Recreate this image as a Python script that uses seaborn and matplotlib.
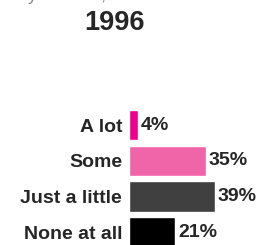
import matplotlib
matplotlib.use("Agg")
import matplotlib.pyplot as plt
import seaborn as sns
import pandas as pd

# --- DATOS ---
categorias = ["A lot", "Some", "Just a little", "None at all"]
valores = [4, 35, 39, 21]
colores = ["#EC008C", "#F064A8", "#404040", "#000000"]
titulo = "1996"

sns.set_style("white")
plt.rcParams["font.family"] = ["Liberation Sans", "DejaVu Sans"]

df = pd.DataFrame({"cat": categorias, "val": valores})

fig = plt.figure(figsize=(2.64, 2.45), dpi=100)
ax = fig.add_axes([129 / 264, -5 / 245, 132 / 264, 142.5 / 245])

sns.barplot(data=df, y="cat", x="val", hue="cat", palette=colores,
            order=categorias, hue_order=categorias, legend=False,
            width=0.85, saturation=1, ax=ax)

ax.set_xlim(0, 60)
ax.set_ylim(3.5, -0.5)
ax.set_xlabel("")
ax.set_ylabel("")
ax.set_xticks([])
ax.tick_params(axis="y", length=0, pad=5, labelsize=14)
for lbl in ax.get_yticklabels():
    lbl.set_fontweight("bold")
sns.despine(ax=ax, left=True, bottom=True, top=True, right=True)

# etiquetas de valor
for p, v in zip(ax.patches, valores):
    ax.text(p.get_width() + 1.3, p.get_y() + p.get_height() / 2, f"{v}%",
            va="center", ha="left", fontsize=14, fontweight="bold")

# titulo y texto cortado arriba
fig.text(114 / 264, 1 - 23 / 245, titulo, ha="center", va="center",
         fontsize=19.5, fontweight="bold")
fig.text(28 / 264, 1.0, "y interest, 1996", ha="left", va="baseline",
         fontsize=13, color="#888888")

fig.savefig("out.png", dpi=100)
